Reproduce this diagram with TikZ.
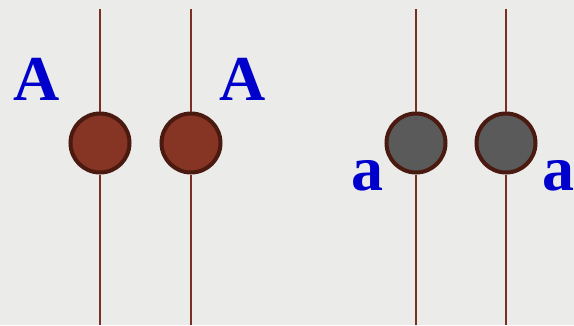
\documentclass[tikz,border=0pt]{standalone}
\usepackage{fontspec}
\setmainfont{Liberation Serif}
\begin{document}
\begin{tikzpicture}[x=1pt,y=-1pt,
  allele/.style={circle,draw=circborder,line width=4pt,minimum size=59pt,inner sep=0pt},
  dom/.style={allele,fill=domfill},
  rec/.style={allele,fill=recfill},
  strand/.style={draw=strandcol,line width=2.6pt},
  letter/.style={text=letterblue,font=\fontsize{64}{64}\selectfont\bfseries,inner sep=0pt,anchor=base}]
\definecolor{bg}{HTML}{EBEBEA}
\definecolor{circborder}{HTML}{4A1A10}
\definecolor{domfill}{HTML}{863424}
\definecolor{recfill}{HTML}{5A5A5A}
\definecolor{strandcol}{HTML}{7A3020}
\definecolor{letterblue}{HTML}{0000CC}
\fill[bg] (0,0) rectangle (574,325);
\useasboundingbox (0,0) rectangle (574,325);
\foreach \n/\x in {1/100,2/191,3/416,4/506}{
  \coordinate (t\n) at (\x,9);
  \coordinate (b\n) at (\x,325);
}
\node[dom] (c1) at (100,143) {};
\node[dom] (c2) at (191,143) {};
\node[rec] (c3) at (416,143) {};
\node[rec] (c4) at (506,143) {};
\foreach \n in {1,2,3,4}{
  \draw[strand] (t\n) -- (c\n.north);
  \draw[strand] (c\n.south) -- (b\n);
}
\node[letter] (l1) at (37,100) {A};
\node[letter] (l2) at (243,100) {A};
\node[letter] (l3) at (367,190) {a};
\node[letter] (l4) at (558,190) {a};
\end{tikzpicture}
\end{document}
